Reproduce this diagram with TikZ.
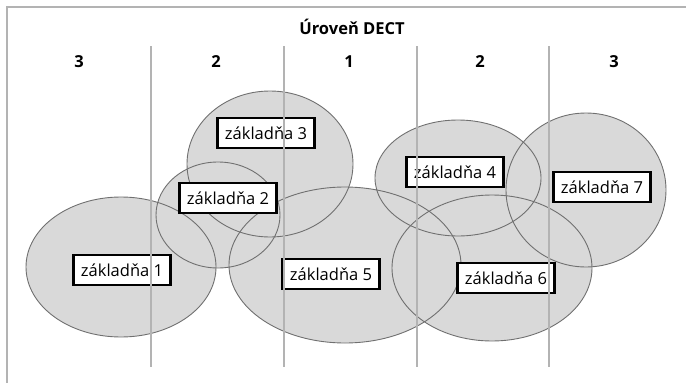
\documentclass[tikz,border=0pt]{standalone}
\usepackage{fontspec}
\setmainfont{Open Sans}
\usetikzlibrary{calc}
\definecolor{rimgray}{HTML}{707070}
\definecolor{cellgray}{HTML}{D9D9D9}
\definecolor{linegray}{HTML}{B3B3B3}

\begin{document}
\begin{tikzpicture}[x=1pt,y=-1pt,
   cell/.style={fill=cellgray},
   rim/.style={draw=rimgray,line width=0.9pt},
   base/.style={draw=black,fill=white,line width=2.4pt,minimum width=97pt,
      minimum height=30pt,inner sep=2pt,font=\fontsize{16.5}{18}\selectfont},
   level/.style={font=\bfseries\fontsize{16.5}{18}\selectfont},
   divider/.style={draw=linegray,line width=1.5pt}]
\useasboundingbox (0,0) rectangle (686,383);
% coverage areas
\foreach \cx/\cy/\rx/\ry in {121/267/95/70, 218/215/62/53, 270/164/83/73,
   345/265/116/78, 458/178/83/58, 492/268/100/73, 586/190/80/77}
   \fill[cell] (\cx,\cy) ellipse [x radius=\rx, y radius=\ry];
\foreach \cx/\cy/\rx/\ry in {121/267/95/70, 218/215/62/53, 270/164/83/73,
   345/265/116/78, 458/178/83/58, 492/268/100/73, 586/190/80/77}
   \draw[rim] (\cx,\cy) ellipse [x radius=\rx, y radius=\ry];
% stations
\node[base] (z1) at (122,270) {základňa 1};
\node[base] (z2) at (228,198) {základňa 2};
\node[base] (z3) at (266,133) {základňa 3};
\node[base] (z4) at (455,172) {základňa 4};
\node[base] (z5) at (331,274) {základňa 5};
\node[base] (z6) at (506,278) {základňa 6};
\node[base] (z7) at (602,187) {základňa 7};
% frame and levels
\draw[divider,line width=2pt] (7,383) -- (7,7) -- (686,7);
\node[level] (title) at (352,27) {Úroveň DECT};
\foreach \x in {151,284,417,549}
   \draw[divider] (\x,46) -- (\x,367);
\node[level] (l1) at (79,62) {3};
\node[level] (l2) at (216,62) {2};
\node[level] (l3) at (349,62) {1};
\node[level] (l4) at (480,62) {2};
\node[level] (l5) at (614,62) {3};
\end{tikzpicture}
\end{document}
